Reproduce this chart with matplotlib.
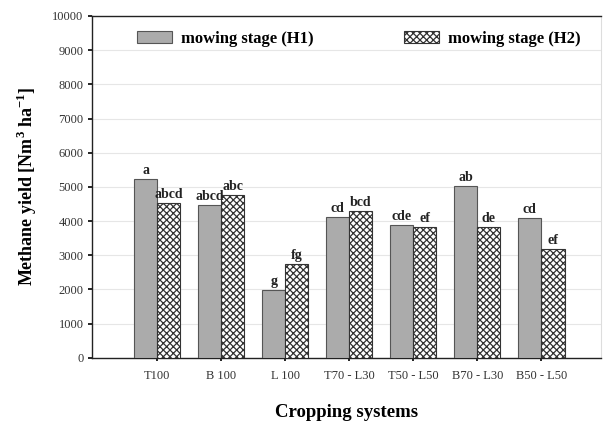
import matplotlib
matplotlib.use("Agg")
import matplotlib.pyplot as plt
import numpy as np

systems = ["T100", "B 100", "L 100", "T70 - L30", "T50 - L50", "B70 - L30", "B50 - L50"]
yield_h1 = [5230, 4470, 1970, 4110, 3885, 5025, 4100]
yield_h2 = [4520, 4755, 2750, 4285, 3835, 3815, 3170]
letters_h1 = ["a", "abcd", "g", "cd", "cde", "ab", "cd"]
letters_h2 = ["abcd", "abc", "fg", "bcd", "ef", "de", "ef"]
series_names = ["mowing stage (H1)", "mowing stage (H2)"]
y_ticks = list(range(0, 10001, 1000))

plt.rcParams["font.family"] = ["Liberation Serif", "DejaVu Serif"]
plt.rcParams["hatch.linewidth"] = 0.9
plt.rcParams["hatch.color"] = "#333333"

fig = plt.figure(figsize=(6.05, 4.22), dpi=100)
ax = fig.add_axes([92 / 605, 1 - 357.7 / 422, (601 - 92) / 605, (357.7 - 16) / 422])

x = np.arange(len(systems))
w = 0.36
ax.bar(x - w / 2, yield_h1, w, color="#ababab", edgecolor="#555555",
       linewidth=0.8, zorder=3, label=series_names[0])
ax.bar(x + w / 2, yield_h2, w, color="white", edgecolor="#333333",
       linewidth=0.8, hatch="xxxxx", zorder=3, label=series_names[1])

for xi, v, t in zip(x - w / 2, yield_h1, letters_h1):
    ax.text(xi, v + 60, t, ha="center", va="bottom", fontsize=10,
            fontweight="bold", color="#222222")
for xi, v, t in zip(x + w / 2, yield_h2, letters_h2):
    ax.text(xi, v + 60, t, ha="center", va="bottom", fontsize=10,
            fontweight="bold", color="#222222")

ax.set_xlim(-1.02, 6.93)
ax.set_ylim(0, 10000)
ax.set_yticks(y_ticks)
ax.set_xticks(x)
ax.set_xticklabels(systems)
ax.yaxis.grid(True, color="#e6e6e6", linewidth=0.8, zorder=0)
ax.set_axisbelow(True)

for s in ["left", "bottom", "top"]:
    ax.spines[s].set_color("#222222")
    ax.spines[s].set_linewidth(1.0)
ax.spines["right"].set_color("#dddddd")
ax.spines["right"].set_linewidth(0.8)

ax.tick_params(axis="y", direction="out", length=3, width=1.2, labelsize=9,
               labelcolor="#333333", pad=3)
ax.tick_params(axis="x", direction="inout", length=5, width=1.2, labelsize=9,
               labelcolor="#333333", pad=6)

ax.set_ylabel("Methane yield [Nm$^{\\mathregular{3}}$ ha$^{\\mathregular{-1}}$]",
              fontsize=13, fontweight="bold", labelpad=10)
ax.set_xlabel("Cropping systems", fontsize=13.5, fontweight="bold", labelpad=16)

ax.legend(loc="upper left", bbox_to_anchor=(122 / 605, 1 - 16 / 422),
          bbox_transform=fig.transFigure, ncol=2, frameon=False,
          prop={"weight": "bold", "size": 12}, handlelength=2.1,
          handleheight=0.7, handletextpad=0.55, columnspacing=5.4)

fig.savefig("out.png", dpi=100)
